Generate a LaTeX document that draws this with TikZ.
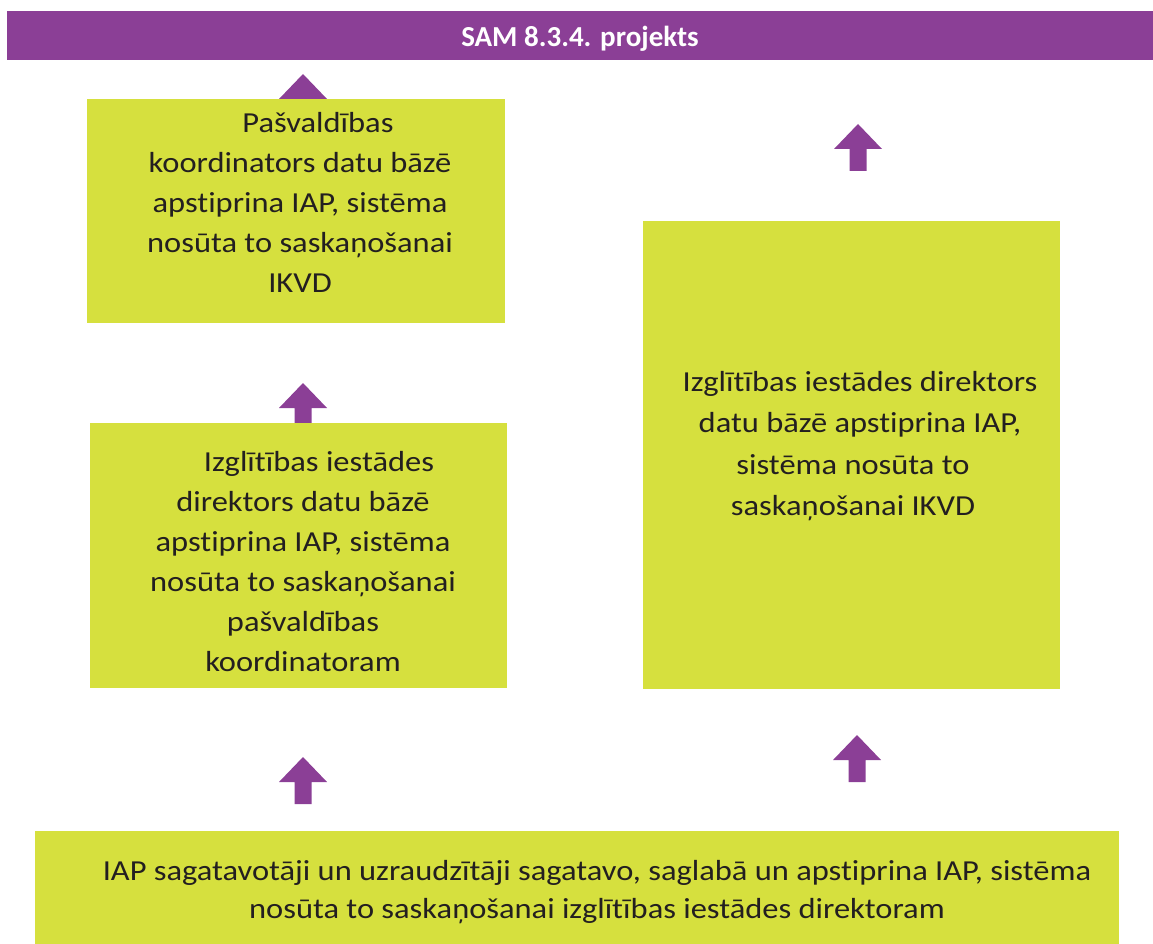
\documentclass[tikz,border=0pt]{standalone}
\usepackage{fontspec}
\setmainfont{Carlito}[Ligatures=NoCommon]
\newfontfamily\widefont{Carlito}[FakeStretch=1.12,Ligatures=NoCommon]
\definecolor{sampurple}{RGB}{139,63,150}
\definecolor{boxgreen}{RGB}{214,224,62}
\definecolor{txtdark}{RGB}{35,31,32}
\begin{document}
\begin{tikzpicture}[x=1pt,y=-1pt,
  greenbox/.style={fill=boxgreen, draw=none, inner sep=0pt, outer sep=0pt, anchor=north west},
  boxtext/.style={align=center, text=txtdark, inner sep=0pt, font=\widefont\fontsize{29}{40}\selectfont},
  uparrow/.pic={\fill[sampurple] (0,0) -- (24,25) -- (8.5,25) -- (8.5,47) -- (-8.5,47) -- (-8.5,25) -- (-24,25) -- cycle;}
]
\useasboundingbox (0,0) rectangle (1153,944);
% title bar
\node[fill=sampurple, inner sep=0pt, outer sep=0pt, anchor=north west, minimum width=1146pt, minimum height=49pt] (bar) at (7,11) {};
\node[anchor=base, text=white, inner sep=0pt, font=\fontsize{29}{35}\selectfont\bfseries] (title) at (580,47) {SAM 8.3.4. projekts};
% arrows (behind boxes)
\coordinate (a1) at (303,74);
\coordinate (a2) at (858,124);
\coordinate (a3) at (303,383);
\coordinate (a4) at (303,757);
\coordinate (a5) at (857,735);
\pic at (a1) {uparrow};
\pic at (a2) {uparrow};
\pic at (a3) {uparrow};
\pic at (a4) {uparrow};
\pic at (a5) {uparrow};
% boxes
\node[greenbox, minimum width=418pt, minimum height=224pt] (b1) at (87,99) {};
\node[greenbox, minimum width=417pt, minimum height=265pt] (b2) at (90,423) {};
\node[greenbox, minimum width=417pt, minimum height=468pt] (b3) at (643,221) {};
\node[greenbox, minimum width=1084pt, minimum height=113pt] (b4) at (35,831) {};
% texts
\node[boxtext] (t1) at (300,202) {\hspace*{36pt}Pašvaldības\\koordinators datu bāzē\\apstiprina IAP, sistēma\\nosūta to saskaņošanai\\IKVD};
\node[boxtext] (t2) at (303,562) {\hspace*{32pt}Izglītības iestādes\\direktors datu bāzē\\apstiprina IAP, sistēma\\nosūta to saskaņošanai\\pašvaldības\\koordinatoram};
\node[boxtext, font=\widefont\fontsize{29}{41.5}\selectfont] (t3) at (853,446) {\hspace*{14pt}Izglītības iestādes direktors\\\hspace*{14pt}datu bāzē apstiprina IAP,\\sistēma nosūta to\\saskaņošanai IKVD};
\node[boxtext, font=\widefont\fontsize{29}{38}\selectfont] (t4) at (597,892) {IAP sagatavotāji un uzraudzītāji sagatavo, saglabā un apstiprina IAP, sistēma\\nosūta to saskaņošanai izglītības iestādes direktoram};
\end{tikzpicture}
\end{document}
